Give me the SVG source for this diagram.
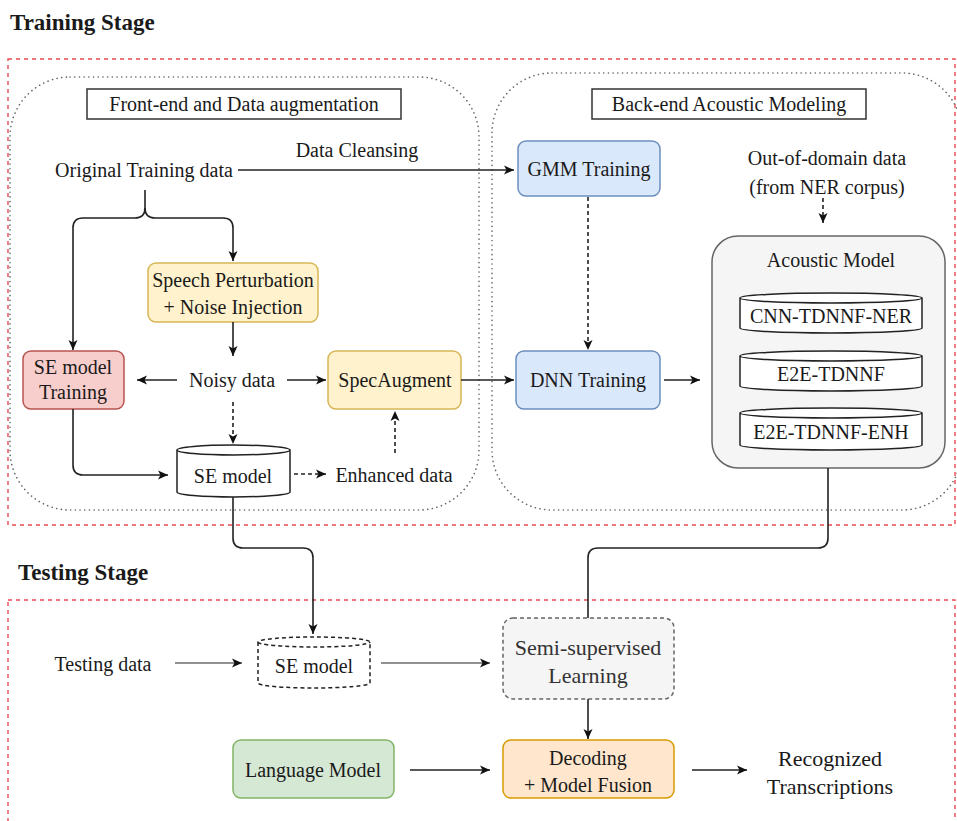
<svg xmlns="http://www.w3.org/2000/svg" width="957" height="821" viewBox="0 0 957 821">
<defs>
<marker id="ah" markerUnits="userSpaceOnUse" markerWidth="12" markerHeight="12" viewBox="0 0 12 12" refX="11" refY="6" orient="auto">
<path d="M1,1.5 L11,6 L1,10.5 L3.5,6 Z" fill="#111"/>
</marker>
</defs>
<style>
text{font-family:'Liberation Serif','DejaVu Serif','Times New Roman',serif;fill:#1a1a1a;font-size:20px;text-anchor:middle;dominant-baseline:central}
.stage{font-weight:bold;font-size:23px;text-anchor:start}
.red{fill:none;stroke:#e84a52;stroke-width:1.4;stroke-dasharray:4 4}
.dot{fill:none;stroke:#666;stroke-width:1.6;stroke-dasharray:0.1 4.6;stroke-linecap:round}
.lbl{fill:#fff;stroke:#333;stroke-width:1.5}
.c{fill:none;stroke:#222;stroke-width:1.6}
.cd{fill:none;stroke:#222;stroke-width:1.6;stroke-dasharray:4 3}
.cyl{fill:#fff;stroke:#222;stroke-width:1.5}
.big{font-size:22px}
</style>
<g font-family="Liberation Serif, Times New Roman, serif">
<text class="stage" x="10" y="22">Training Stage</text>
<text class="stage" x="18" y="572">Testing Stage</text>

<rect class="red" x="8" y="59" width="947" height="466"/>
<rect class="red" x="8" y="600" width="947" height="240"/>

<rect class="dot" x="10" y="77" width="469" height="433" rx="60"/>
<rect class="dot" x="492" y="73" width="470" height="437" rx="60"/>

<g id="frontend-label"><rect class="lbl" x="87" y="89" width="314" height="30"/><text x="244" y="104">Front-end and Data augmentation</text></g>
<g id="backend-label"><rect class="lbl" x="592" y="89" width="274" height="30"/><text x="729" y="104">Back-end Acoustic Modeling</text></g>

<g id="original"><text x="144" y="170">Original Training data</text></g>
<g id="cleansing"><text x="357" y="150">Data Cleansing</text></g>

<g id="gmm"><rect x="518" y="141" width="142" height="55" rx="8" fill="#dae8fc" stroke="#6c8ebf" stroke-width="1.5"/><text x="589" y="169">GMM Training</text></g>
<g id="ood"><text x="827" y="158">Out-of-domain data</text><text x="827" y="187">(from NER corpus)</text></g>

<g id="acoustic">
<rect x="712" y="236" width="233" height="232" rx="26" fill="#f5f5f5" stroke="#666" stroke-width="1.5"/>
<text x="831" y="260">Acoustic Model</text>
</g>
<g id="cnn"><path class="cyl" d="M740,298 V328 A91,5 0 0 0 922,328 V298 A91,5 0 0 0 740,298 Z M740,298 A91,5 0 0 0 922,298"/><text x="831" y="316">CNN-TDNNF-NER</text></g>
<g id="e2e"><path class="cyl" d="M740,356 V386 A91,5 0 0 0 922,386 V356 A91,5 0 0 0 740,356 Z M740,356 A91,5 0 0 0 922,356"/><text x="831" y="374">E2E-TDNNF</text></g>
<g id="enh"><path class="cyl" d="M740,413 V445 A91,5 0 0 0 922,445 V413 A91,5 0 0 0 740,413 Z M740,413 A91,5 0 0 0 922,413"/><text x="831" y="432">E2E-TDNNF-ENH</text></g>

<g id="dnn"><rect x="516" y="351" width="144" height="58" rx="8" fill="#dae8fc" stroke="#6c8ebf" stroke-width="1.5"/><text x="588" y="380">DNN Training</text></g>
<g id="specaug"><rect x="328" y="351" width="133" height="58" rx="8" fill="#fff2cc" stroke="#d6b656" stroke-width="1.5"/><text x="395" y="380">SpecAugment</text></g>
<g id="setrain"><rect x="23" y="351" width="101" height="58" rx="8" fill="#f8cecc" stroke="#b85450" stroke-width="1.5"/><text x="73" y="367">SE model</text><text x="73" y="392">Training</text></g>
<g id="perturb"><rect x="148" y="263" width="170" height="59" rx="8" fill="#fff2cc" stroke="#d6b656" stroke-width="1.5"/><text x="233" y="280">Speech Perturbation</text><text x="233" y="307">+ Noise Injection</text></g>
<g id="noisy"><text x="232" y="380">Noisy data</text></g>
<g id="semodel"><path class="cyl" d="M177,450 V492 A56.5,5 0 0 0 290,492 V450 A56.5,5 0 0 0 177,450 Z M177,450 A56.5,5 0 0 0 290,450"/><text x="233" y="476">SE model</text></g>
<g id="enhanced"><text x="394" y="475">Enhanced data</text></g>

<g id="testdata"><text x="103" y="664">Testing data</text></g>
<g id="setest"><path d="M258,642 V683 A56,5 0 0 0 370,683 V642 A56,5 0 0 0 258,642 Z M258,642 A56,5 0 0 0 370,642" fill="#fff" stroke="#222" stroke-width="1.5" stroke-dasharray="4 3"/><text x="314" y="666">SE model</text></g>
<g id="semi"><rect x="503" y="618" width="171" height="81" rx="10" fill="#f5f5f5" stroke="#666" stroke-width="1.5" stroke-dasharray="4 3"/><text class="big" x="588" y="647" style="fill:#333">Semi-supervised</text><text class="big" x="588" y="675" style="fill:#333">Learning</text></g>
<g id="lm"><rect x="233" y="740" width="161" height="58" rx="8" fill="#d5e8d4" stroke="#82b366" stroke-width="1.5"/><text x="313" y="770">Language Model</text></g>
<g id="decoding"><rect x="503" y="740" width="171" height="58" rx="8" fill="#ffe6cc" stroke="#d79b00" stroke-width="1.5"/><text x="588" y="758">Decoding</text><text x="588" y="785">+ Model Fusion</text></g>
<g id="recognized"><text class="big" x="830" y="758">Recognized</text><text class="big" x="830" y="786">Transcriptions</text></g>

<g id="connectors">
<path class="c" d="M238,170 H514" marker-end="url(#ah)"/>
<path class="c" d="M145,190 V208 Q145,218 135,218 H83 Q73,218 73,228 V350" marker-end="url(#ah)"/>
<path class="c" d="M145,208 Q145,218 155,218 H223 Q233,218 233,228 V261" marker-end="url(#ah)"/>
<path class="c" d="M233,322 V356" marker-end="url(#ah)"/>
<path class="c" d="M177,380 H137" marker-end="url(#ah)"/>
<path class="c" d="M287,380 H326" marker-end="url(#ah)"/>
<path class="cd" d="M233,402 V444" marker-end="url(#ah)"/>
<path class="c" d="M73,409 V465 Q73,475 83,475 H168" marker-end="url(#ah)"/>
<path class="cd" d="M294,474 H326" marker-end="url(#ah)"/>
<path class="cd" d="M395,453 V411" marker-end="url(#ah)"/>
<path class="c" d="M461,380 H514" marker-end="url(#ah)"/>
<path class="cd" d="M588,197 V350" marker-end="url(#ah)"/>
<path class="cd" d="M823,198 V223" marker-end="url(#ah)"/>
<path class="c" d="M664,380 H700" marker-end="url(#ah)"/>
<path class="c" d="M233,497 V538 Q233,548 243,548 H303 Q313,548 313,558 V634" marker-end="url(#ah)"/>
<path class="c" d="M828,468 V538 Q828,548 818,548 H598 Q588,548 588,558 V618"/>
<path class="c" d="M175,663 H242" marker-end="url(#ah)" style="stroke-width:1.2"/>
<path class="c" d="M381,663 H490" marker-end="url(#ah)" style="stroke-width:1.2"/>
<path class="c" d="M588,699 V739" marker-end="url(#ah)"/>
<path class="c" d="M410,770 H490" marker-end="url(#ah)"/>
<path class="c" d="M692,770 H747" marker-end="url(#ah)"/>
</g>
</g>
</svg>
